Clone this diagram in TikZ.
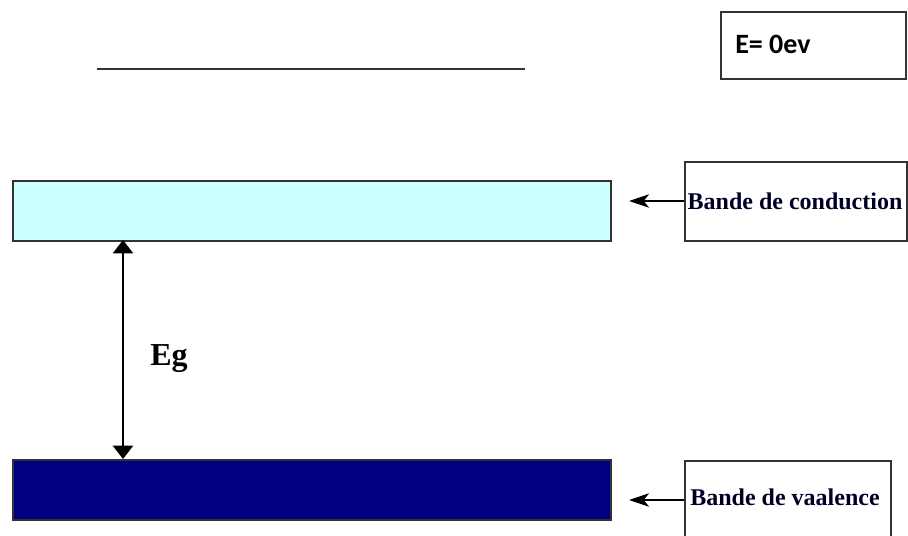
\documentclass[tikz,border=0pt]{standalone}
\usepackage{fontspec}
\setmainfont{Liberation Serif}
\newfontfamily\labelsans{Carlito}
\usetikzlibrary{arrows.meta,positioning}
\definecolor{condfill}{HTML}{CCFFFF}
\definecolor{valfill}{HTML}{000080}
\definecolor{edge}{HTML}{333333}
\tikzset{
  band/.style={draw=edge,line width=1.5pt,minimum width=448.5pt,minimum height=45pt,inner sep=0pt,anchor=north west},
  tagbox/.style={draw=edge,line width=1.2pt,inner sep=0pt,anchor=north west},
  tagtext/.style={font=\bfseries\fontsize{18}{20}\selectfont,text=black!85!blue,inner sep=0pt},
  pointer/.style={line width=1.6pt,-{Stealth[length=15pt,width=10pt,inset=4pt]}},
  gap/.style={line width=1.8pt,{Triangle[length=10pt,width=15pt]}-{Triangle[length=10pt,width=15pt]}}
}
\begin{document}
\begin{tikzpicture}[x=0.75pt,y=-0.75pt]
\useasboundingbox (0,0) rectangle (908,536);
% reference level
\node[tagbox,line width=1.5pt,minimum width=139pt,minimum height=50.25pt] (zero) at (720,11) {};
\node[anchor=west,inner sep=0pt,font=\labelsans\bfseries\fontsize{21}{23}\selectfont] (zerotxt) at (735,44) {E= 0ev};
\coordinate (vacl) at (97,69);
\coordinate (vacr) at (525,69);
\draw[line width=1.5pt,edge] (vacl) -- (vacr);
% energy bands
\node[band,fill=condfill] (cb) at (12,180) {};
\node[band,fill=valfill] (vb) at (12,459) {};
% labels
\node[tagbox,minimum width=166.5pt,minimum height=59.25pt] (cbox) at (684,161) {};
\node[tagtext] (ctxt) at (795,201) {Bande de conduction};
\node[tagbox,minimum width=154.5pt,minimum height=75pt] (vbox) at (684,460) {};
\node[tagtext] (vtxt) at (785,497) {Bande de vaalence};
\coordinate (cptr) at (629,201);
\coordinate (vptr) at (629,500);
\draw[pointer] (cbox.west |- cptr) -- (cptr);
\draw[pointer] (vbox.west |- vptr) -- (vptr);
% band gap
\coordinate (gtop) at (123,240);
\coordinate (gbot) at (123,459);
\draw[gap] (gtop) -- (gbot);
\node[anchor=west,inner sep=0pt,font=\bfseries\fontsize{24}{26}\selectfont] (eg) at (150,359) {Eg};
\end{tikzpicture}
\end{document}
